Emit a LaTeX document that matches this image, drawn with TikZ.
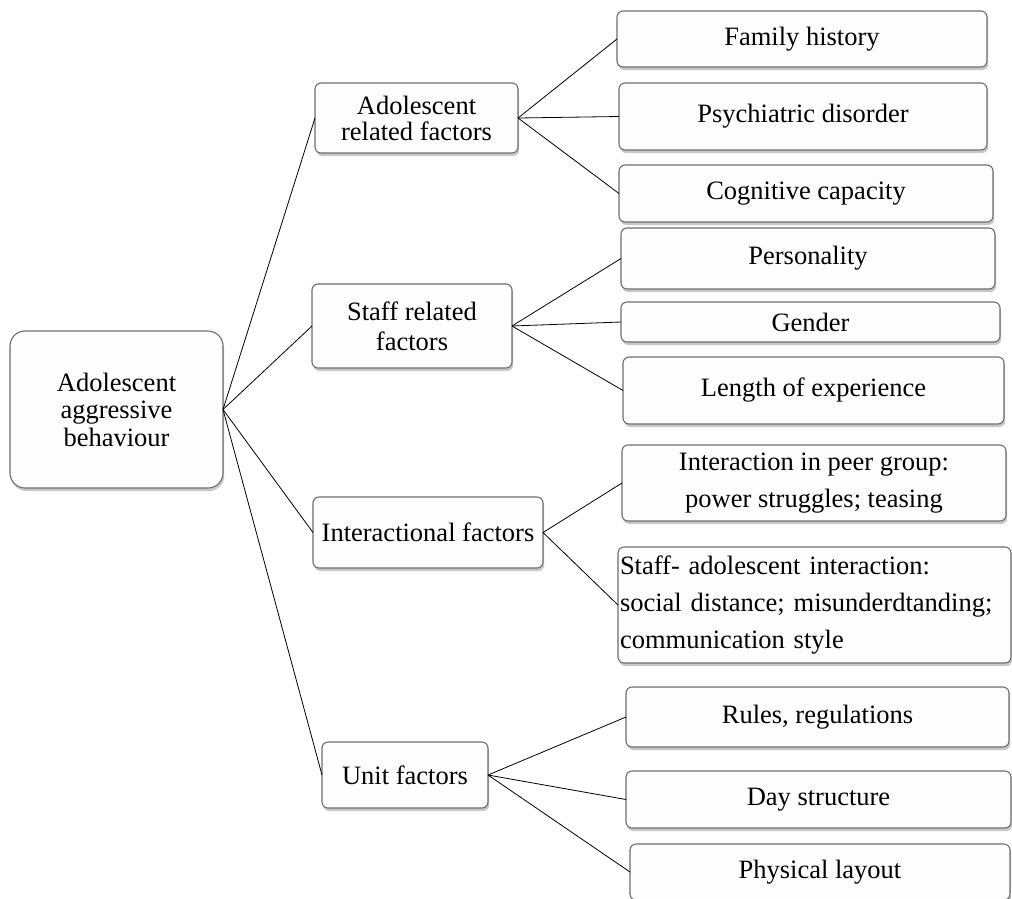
\documentclass[tikz,border=0pt]{standalone}
\usepackage{fontspec}
\setmainfont{Liberation Serif}
\usetikzlibrary{shadows}
\definecolor{boxgray}{HTML}{6E6E6E}
\definecolor{boxfill}{HTML}{FDFDFD}
\tikzset{
  box/.style={draw=boxgray, line width=1.1pt, rounded corners=6pt, fill=boxfill,
    drop shadow={shadow xshift=1.2pt, shadow yshift=-3pt, fill=black, opacity=0.22},
    inner sep=0pt, outer sep=0pt, align=center,
    font=\fontsize{26.5}{27.5}\selectfont},
  conn/.style={draw=black, line width=0.8pt},
}
\begin{document}
\begin{tikzpicture}[x=1pt, y=-1pt]
\useasboundingbox (0,0) rectangle (1012,898);
% root
\node[box, rounded corners=15pt, minimum width=213pt, minimum height=157pt] (root) at (116.5,409.5) {Adolescent\\aggressive\\behaviour};
% middle
\node[box, minimum width=203pt, minimum height=70pt, font=\fontsize{26.5}{26}\selectfont] (adol) at (416.5,118) {Adolescent\\related factors};
\node[box, minimum width=200pt, minimum height=84pt, font=\fontsize{26.5}{30}\selectfont] (staff) at (412,326) {Staff related\\factors};
\node[box, minimum width=230pt, minimum height=71pt] (inter) at (428,532.5) {Interactional factors};
\node[box, minimum width=166pt, minimum height=66pt] (unit) at (405,775) {Unit factors};
% right boxes
\node[box, minimum width=370pt, minimum height=56pt] (fam) at (802,39) {Family history};
\node[box, minimum width=368pt, minimum height=67pt] (psy) at (803,116.5) {Psychiatric disorder};
\node[box, minimum width=374pt, minimum height=57pt] (cog) at (806,193.5) {Cognitive capacity};
\node[box, minimum width=374pt, minimum height=61pt] (pers) at (808,258.5) {Personality};
\node[box, minimum width=379pt, minimum height=40pt] (gen) at (810.5,322) {Gender};
\node[box, minimum width=381pt, minimum height=67pt] (len) at (813.5,390.5) {Length of experience};
\node[box, minimum width=384pt, minimum height=76pt, font=\fontsize{26.5}{37}\selectfont] (peer) at (814,483) {Interaction in peer group:\\power struggles; teasing};
\node[box, minimum width=393pt, minimum height=116pt, text width=389pt, align=left, font=\fontsize{26.5}{37}\selectfont] (sadol) at (814.5,605) {Staff- adolescent interaction:\\social distance; misunderdtanding;\\communication style};
\node[box, minimum width=383pt, minimum height=60pt] (rules) at (817.5,717) {Rules, regulations};
\node[box, minimum width=385pt, minimum height=57pt] (day) at (818.5,799.5) {Day structure};
\node[box, minimum width=380pt, minimum height=56pt] (phys) at (820,872) {Physical layout};
% connectors
\draw[conn] (root.east) -- (adol.west);
\draw[conn] (root.east) -- (staff.west);
\draw[conn] (root.east) -- (inter.west);
\draw[conn] (root.east) -- (unit.west);
\draw[conn] (adol.east) -- (fam.west);
\draw[conn] (adol.east) -- (psy.west);
\draw[conn] (adol.east) -- (cog.west);
\draw[conn] (staff.east) -- (pers.west);
\draw[conn] (staff.east) -- (gen.west);
\draw[conn] (staff.east) -- (len.west);
\draw[conn] (inter.east) -- (peer.west);
\draw[conn] (inter.east) -- (sadol.west);
\draw[conn] (unit.east) -- (rules.west);
\draw[conn] (unit.east) -- (day.west);
\draw[conn] (unit.east) -- (phys.west);
\end{tikzpicture}
\end{document}
